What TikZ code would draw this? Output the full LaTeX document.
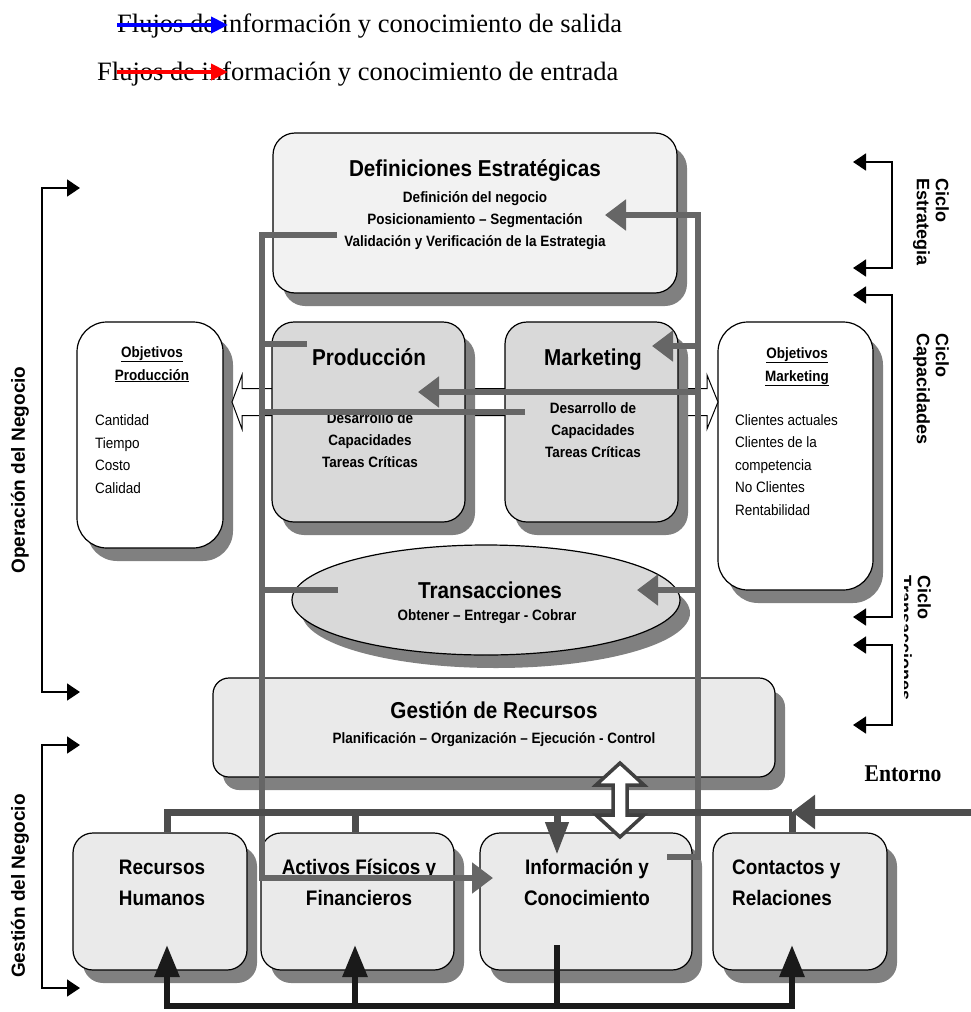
\documentclass[tikz,border=0pt]{standalone}
\usepackage{fontspec}
\setmainfont{Liberation Serif}
\newfontfamily\cn{Liberation Sans}[FakeStretch=0.9]
\newfontfamily\ar{Liberation Sans}
\newfontfamily\tn{Liberation Serif}[FakeStretch=0.9]
\usetikzlibrary{arrows.meta,shadows,shapes.geometric}
\definecolor{shade}{HTML}{808080}
\definecolor{fillA}{HTML}{F2F2F2}
\definecolor{fillB}{HTML}{D9D9D9}
\definecolor{fillC}{HTML}{EAEAEA}
\definecolor{lineg}{HTML}{666666}
\definecolor{lined}{HTML}{4D4D4D}
\definecolor{lineb}{HTML}{1A1A1A}
\begin{document}
\begin{tikzpicture}[x=1pt,y=-1pt,
  shadowed/.style={general shadow={fill=shade, shadow xshift=10pt, shadow yshift=-13pt}},
  panel/.style={draw=black, line width=1.2pt, shadowed, inner sep=0pt, rounded corners=#1},
  panel/.default=20pt,
  ttl/.style={font=\cn\bfseries\fontsize{23}{26}\selectfont, inner sep=0pt, anchor=base},
  sub/.style={font=\cn\bfseries\fontsize{15}{22}\selectfont, align=center, inner sep=0pt, anchor=base},
  lst/.style={font=\cn\fontsize{15}{22.4}\selectfont, align=left, inner sep=0pt, anchor=base west},
  objt/.style={font=\cn\bfseries\fontsize{15}{23}\selectfont, align=center, inner sep=0pt, anchor=base},
  bt/.style={font=\cn\bfseries\fontsize{21}{31}\selectfont, align=center, inner sep=0pt, anchor=base},
  cyc/.style={font=\ar\bfseries\fontsize{18}{19}\selectfont, align=left, inner sep=0pt, rotate=-90, anchor=north west},
  side/.style={font=\ar\bfseries\fontsize{19}{22}\selectfont, inner sep=0pt, rotate=90},
  leg/.style={font=\fontsize{26.5}{30}\selectfont, inner sep=0pt, anchor=base west},
  gl/.style={draw=lineg, line width=6pt},
  ga/.style={gl, -{Triangle[length=21pt,width=30pt]}},
  dl/.style={draw=lined, line width=7pt},
  bl/.style={draw=lineb, line width=6pt},
  ba/.style={bl, -{Triangle[length=32pt,width=24pt]}},
  brk/.style={draw=black, line width=1.5pt, {Triangle[length=13pt,width=17pt]}-{Triangle[length=13pt,width=17pt]}},
  hollow/.style={draw=black, line width=1pt, fill=white},
  hollowv/.style={draw=black!75, line width=3.5pt, fill=white, line join=miter}
]
\useasboundingbox (0,0) rectangle (971,1012);

% ---------- legend ----------
\node[leg] (leg1) at (117,32) {Flujos de información y conocimiento de salida};
\node[leg] (leg2) at (97,80) {Flujos de información y conocimiento de entrada};
\coordinate (g1s) at (117,25); \coordinate (g1e) at (228,25);
\coordinate (g2s) at (117,72); \coordinate (g2e) at (228,72);
\draw[blue, line width=4pt, -{Triangle[length=17pt,width=16pt]}] (g1s) -- (g1e);
\draw[red, line width=4pt, -{Triangle[length=17pt,width=16pt]}] (g2s) -- (g2e);

% ---------- boxes ----------
\node[panel=22pt, fill=fillA, minimum width=404pt, minimum height=160pt] (def) at (475,213) {};
\node[panel=30pt, fill=white, minimum width=146pt, minimum height=226pt] (objp) at (150,435) {};
\node[panel=30pt, fill=white, minimum width=155pt, minimum height=268pt] (objm) at (795.5,456) {};

% hollow double arrow between objectives
\coordinate (hh) at (475,402);
\draw[hollow, shift={(hh)}] (-243,0) -- (-233,-27) -- (-233,-13.5) -- (232,-13.5) -- (232,-27) -- (243,0)
  -- (232,27) -- (232,13.5) -- (-233,13.5) -- (-233,27) -- cycle;

\node[panel=22pt, fill=fillB, minimum width=193pt, minimum height=200pt] (prod) at (368.5,422) {};
\node[panel=22pt, fill=fillB, minimum width=173pt, minimum height=200pt] (mkt) at (591.5,422) {};
\node[draw=black, line width=1.2pt, shadowed, ellipse, inner sep=0pt, fill=fillB,
      minimum width=388pt, minimum height=110pt] (tr) at (486,600) {};
\node[panel=16pt, fill=fillC, minimum width=562pt, minimum height=99pt] (ge) at (494,727.5) {};
\node[panel=20pt, fill=fillC, minimum width=174pt, minimum height=137pt] (rh) at (160,901.5) {};
\node[panel=20pt, fill=fillC, minimum width=193pt, minimum height=137pt] (af) at (357.5,901.5) {};
\node[panel=20pt, fill=fillC, minimum width=212pt, minimum height=137pt] (ic) at (586,901.5) {};
\node[panel=20pt, fill=fillC, minimum width=174pt, minimum height=137pt] (cr) at (800,901.5) {};

% ---------- texts (multi-line nodes: base = last line) ----------
\node[ttl] (defT) at (475,176) {Definiciones Estratégicas};
\node[sub] (defS) at (475,246) {Definición del negocio\\Posicionamiento – Segmentación\\Validación y Verificación de la Estrategia};
\node[ttl] (prodT) at (369,365) {Producción};
\node[sub] (prodS) at (370,467) {Desarrollo de\\Capacidades\\Tareas Críticas};
\node[ttl] (mktT) at (593,365) {Marketing};
\node[sub] (mktS) at (593,457) {Desarrollo de\\Capacidades\\Tareas Críticas};
\node[objt] (objpT) at (152,380) {\underline{Objetivos}\\\underline{Producción}};
\node[lst] (objpL) at (95,493) {Cantidad\\Tiempo\\Costo\\Calidad};
\node[objt] (objmT) at (797,381) {\underline{Objetivos}\\\underline{Marketing}};
\node[lst] (objmL) at (735,515) {Clientes actuales\\Clientes de la\\competencia\\No Clientes\\Rentabilidad};
\node[ttl] (trT) at (490,598) {Transacciones};
\node[sub] (trS) at (487,620) {Obtener – Entregar - Cobrar};
\node[ttl] (geT) at (494,718) {Gestión de Recursos};
\node[sub] (geS) at (494,743) {Planificación – Organización – Ejecución - Control};
\node[bt] (rhT) at (162,905) {Recursos\\Humanos};
\node[bt] (afT) at (359,905) {Activos Físicos y\\Financieros};
\node[bt] (icT) at (587,905) {Información y\\Conocimiento};
\node[bt, align=left, anchor=base west] (crT) at (732,905) {Contactos y\\Relaciones};
\node[font=\tn\bfseries\fontsize{24}{26}\selectfont, inner sep=0pt, anchor=base] (ent) at (903,781) {Entorno};

% side labels
\node[side] (opL) at (20,470) {Operación del Negocio};
\node[side] (gnL) at (20,886) {Gestión del Negocio};
\node[cyc] (cyE) at (949,178) {Ciclo\\Estrategia};
\node[cyc] (cyC) at (949,333) {Ciclo\\Capacidades};
\begin{scope}
  \clip (904,560) rectangle (965,708);
  \node[cyc] (cyT) at (931,575) {Ciclo\\Transacciones};
\end{scope}

% ---------- brackets ----------
\coordinate (sE1) at (853,162); \coordinate (sE2) at (853,268);
\coordinate (sC1) at (853,295); \coordinate (sC2) at (853,617);
\coordinate (sT1) at (853,645); \coordinate (sT2) at (853,725);
\draw[brk] (sE1) -- ++(39,0) |- (sE2);
\draw[brk] (sC1) -- ++(39,0) |- (sC2);
\draw[brk] (sT1) -- ++(39,0) |- (sT2);
\coordinate (sO1) at (80,188); \coordinate (sO2) at (80,692);
\coordinate (sG1) at (80,745); \coordinate (sG2) at (80,988);
\draw[brk] (sO1) -- ++(-38,0) |- (sO2);
\draw[brk] (sG1) -- ++(-38,0) |- (sG2);

% ---------- gray flows: outputs collected on the left ----------
\coordinate (lT) at (337,235); \coordinate (lTc) at (262,235);
\coordinate (lB) at (262,878); \coordinate (lA) at (493,878);
\coordinate (lp1) at (307,344); \coordinate (lm1) at (525,412); \coordinate (lt1) at (338,590);
\draw[ga] (lT) -- (lTc) -- (lB) -- (lA);
\draw[gl] (lp1) -- (lp1 -| lTc);
\draw[gl] (lm1) -- (lm1 -| lTc);
\draw[gl] (lt1) -- (lt1 -| lTc);

% ---------- gray flows: inputs distributed on the right ----------
\coordinate (rS) at (667,857); \coordinate (rC) at (698,857);
\coordinate (rT) at (698,215); \coordinate (rA) at (605,215);
\coordinate (ra1) at (652,346); \coordinate (ra2) at (418,392); \coordinate (ra3) at (637,590);
\draw[ga] (rS) -- (rC) -- (rT) -- (rA);
\draw[ga] (ra1 -| rC) -- (ra1);
\draw[ga] (ra2 -| rC) -- (ra2);
\draw[ga] (ra3 -| rC) -- (ra3);

% ---------- environment line ----------
\coordinate (eR) at (971,812); \coordinate (eJ) at (792,812); \coordinate (eL) at (167,812);
\coordinate (eA) at (355,812); \coordinate (eI) at (557,812); \coordinate (eIt) at (557,855);
\draw[dl, -{Triangle[length=23pt,width=33pt]}] (eR) -- (eJ);
\draw[dl] (eJ) -- (eL) -- (eL |- rh.north);
\draw[dl] (eA) -- (eA |- af.north);
\draw[dl] (eJ) -- (eJ |- cr.north);
\draw[dl, -{Triangle[length=33pt,width=22pt]}] (eI) -- (eIt);

% hollow vertical double arrow
\coordinate (dv) at (620,800);
\draw[hollowv, shift={(dv)}] (0,-37) -- (24,-15) -- (7,-15) -- (7,15) -- (24,15) -- (0,37)
  -- (-24,15) -- (-7,15) -- (-7,-15) -- (-24,-15) -- cycle;

% ---------- black resource flows ----------
\coordinate (bIs) at (557,945); \coordinate (bJ) at (557,1006);
\coordinate (bL) at (167,1006); \coordinate (bR) at (792,1006); \coordinate (bM) at (355,1006);
\coordinate (tRH) at (167,945); \coordinate (tAF) at (355,945); \coordinate (tCR) at (792,945);
\draw[bl] (bIs) -- (bJ);
\draw[ba] (bJ) -- (bL) -- (tRH);
\draw[ba] (bJ) -- (bR) -- (tCR);
\draw[ba] (bM) -- (tAF);
\end{tikzpicture}
\end{document}
